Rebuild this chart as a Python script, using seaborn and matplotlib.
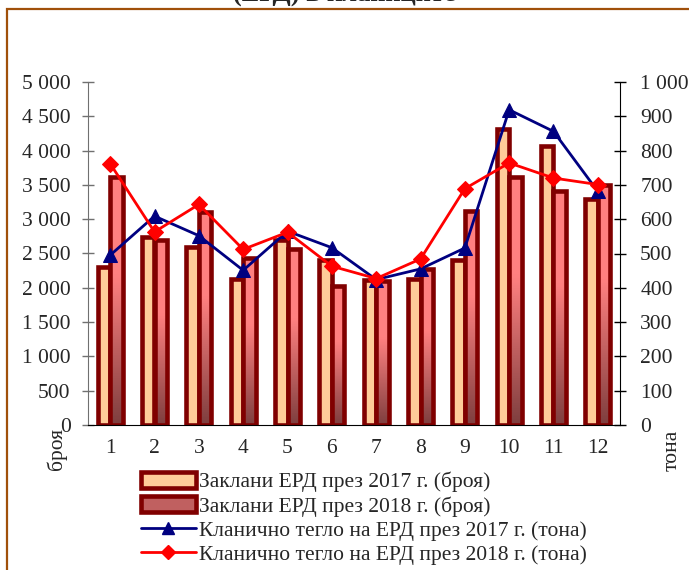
import numpy as np
import pandas as pd
import matplotlib
matplotlib.use("Agg")
import matplotlib.pyplot as plt
from matplotlib.patches import Patch, Rectangle
from matplotlib.lines import Line2D
from matplotlib.colors import LinearSegmentedColormap
import seaborn as sns

# data
months = ["1", "2", "3", "4", "5", "6", "7", "8", "9", "10", "11", "12"]
heads_2017 = [2300, 2740, 2590, 2130, 2690, 2410, 2110, 2130, 2410, 4320, 4060, 3290]
heads_2018 = [3620, 2690, 3110, 2430, 2570, 2030, 2100, 2270, 3120, 3620, 3410, 3500]
weight_2017 = [495, 609, 552, 451, 565, 517, 424, 455, 516, 919, 856, 681]
weight_2018 = [762, 563, 643, 512, 562, 463, 427, 484, 689, 764, 720, 701]

labels = [
    "Заклани ЕРД през 2017 г. (броя)",
    "Заклани ЕРД през 2018 г. (броя)",
    "Кланично тегло на ЕРД през 2017 г. (тона)",
    "Кланично тегло на ЕРД през 2018 г. (тона)",
]

sns.set_style("white")
plt.rcParams["font.family"] = ["Liberation Serif", "DejaVu Serif"]

EDGE = "#800000"
C17 = "#FFCC99"
NAVY = "#000080"
RED = "#FF0000"

bars = pd.DataFrame({
    "month": months * 2,
    "count": heads_2017 + heads_2018,
    "year": ["2017"] * len(months) + ["2018"] * len(months),
})

fig = plt.figure(figsize=(6.89, 5.70), dpi=100)
ax = fig.add_axes([88 / 689, 1 - 425 / 570, (620 - 88) / 689, (425 - 82) / 570])

sns.barplot(data=bars, x="month", y="count", hue="year", dodge=True,
            palette={"2017": C17, "2018": "#FF8080"}, width=0.57,
            edgecolor=EDGE, linewidth=3.3, saturation=1, legend=False, ax=ax)

# gradient fill for the 2018 bars (pink on top, dark at the bottom)
grad = LinearSegmentedColormap.from_list(
    "g18", [(0, "#7F3F3F"), (0.6, "#FF8080"), (1, "#FF8080")])
for bar in ax.containers[1]:
    x0, y0 = bar.get_x(), bar.get_y()
    w, h = bar.get_width(), bar.get_height()
    img = ax.imshow(np.linspace(0, 1, 100).reshape(-1, 1), cmap=grad,
                    extent=[x0, x0 + w, y0, y0 + h], origin="lower",
                    aspect="auto", zorder=bar.get_zorder() + 0.1)
    img.set_clip_path(bar)
    bar.set_facecolor("none")
    bar.set_zorder(bar.get_zorder() + 0.2)

ax.set_xlim(-0.5, len(months) - 0.5)
ax.set_ylim(0, 5000)
ax.set_yticks(np.arange(0, 5001, 500))
ax.set_yticklabels([f"{v:,}".replace(",", " ") for v in range(0, 5001, 500)])
ax.set_xticks(np.arange(len(months) + 1) - 0.5)
ax.set_xticklabels([])
ax.set_xticks(np.arange(len(months)), minor=True)
ax.set_xticklabels(months, minor=True)
ax.set_xlabel("")
ax.set_ylabel("")
ax.tick_params(axis="x", which="major", direction="inout", length=9, width=1, color="black")
ax.tick_params(axis="x", which="minor", length=0, pad=10, labelsize=15.5)
ax.tick_params(axis="y", direction="inout", length=9, width=1, color="#707070",
               pad=8, labelsize=15.5, left=True)

for s in ["top", "right"]:
    ax.spines[s].set_visible(False)
ax.spines["left"].set_color("#707070")
ax.spines["bottom"].set_color("black")

ax2 = ax.twinx()
pos = np.arange(len(months))
sns.lineplot(x=pos, y=weight_2017, color=NAVY, marker="^", markersize=10,
             markeredgecolor=NAVY, linewidth=2, ax=ax2)
sns.lineplot(x=pos, y=weight_2018, color=RED, marker="D", markersize=8,
             markeredgecolor=RED, linewidth=2, ax=ax2)
ax2.set_ylim(0, 1000)
ax2.set_yticks(np.arange(0, 1001, 100))
ax2.set_yticklabels([f"{v:,}".replace(",", " ") for v in range(0, 1001, 100)])
ax2.set_ylabel("")
ax2.tick_params(axis="y", direction="inout", length=9, width=1, color="black",
                pad=10, labelsize=15.5, right=True)
for s in ["top", "left", "bottom"]:
    ax2.spines[s].set_visible(False)
ax2.spines["right"].set_color("black")

fig.text(57 / 689, 1 - 449 / 570, "броя", rotation=90, ha="center", va="center", fontsize=15.5)
fig.text(672 / 689, 1 - 450 / 570, "тона", rotation=90, ha="center", va="center", fontsize=15.5)

fig.text(0.5, 1 - 2 / 570, "(ЕРД) в кланиците", ha="center", va="baseline",
         fontsize=19, fontweight="bold")

handles = [
    Patch(facecolor=C17, edgecolor=EDGE, linewidth=3.3),
    Patch(facecolor="#C06060", edgecolor=EDGE, linewidth=3.3),
    Line2D([], [], color=NAVY, marker="^", markersize=9, linewidth=2),
    Line2D([], [], color=RED, marker="D", markersize=7, linewidth=2),
]
fig.legend(handles, labels, loc="upper left", bbox_to_anchor=(141 / 689, 1 - 472 / 570),
           frameon=False, fontsize=15.5, handlelength=2.55, handleheight=0.75,
           handletextpad=0.15, labelspacing=0.17, borderpad=0, borderaxespad=0)

fig.patches.append(Rectangle((7 / 689, -0.05), 1.2, 1.05 - 9 / 570,
                             transform=fig.transFigure, fill=False,
                             edgecolor="#A0500A", linewidth=1.6))

fig.savefig("out.png", dpi=100)
